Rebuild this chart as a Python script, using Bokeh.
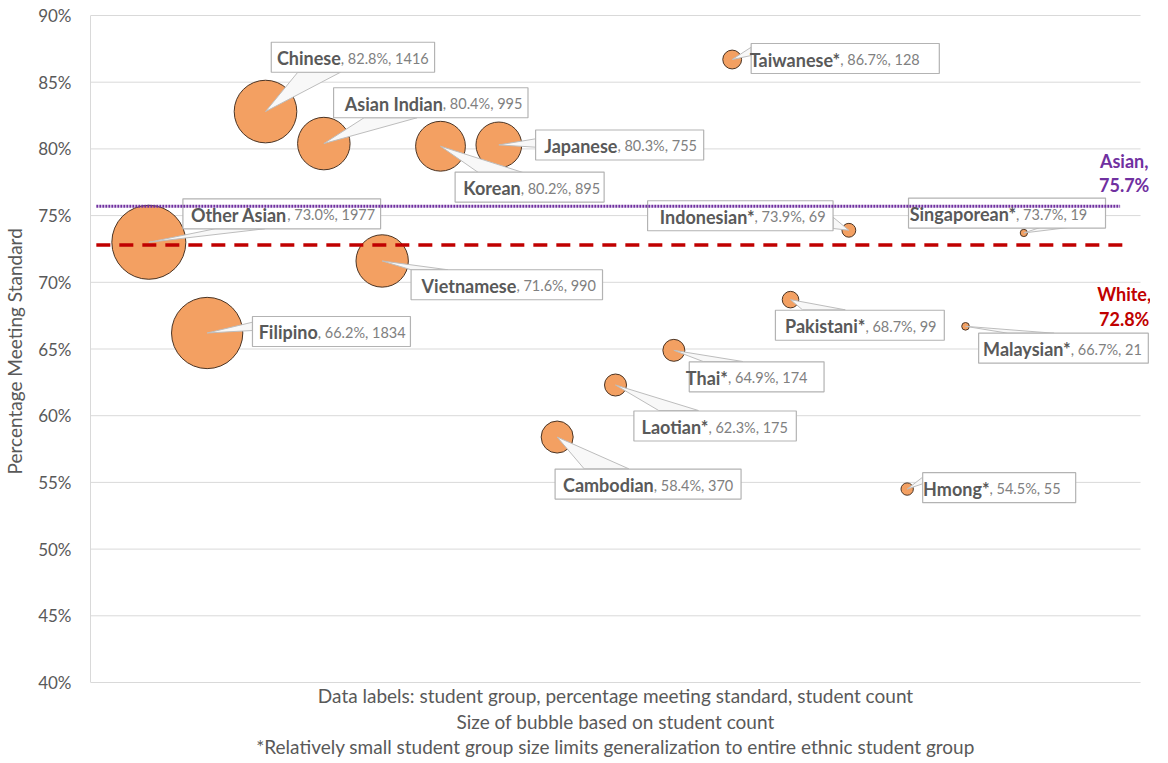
from bokeh.plotting import figure
from bokeh.models import ColumnDataSource, FixedTicker, Range1d
from bokeh.core.properties import value
from bokeh.embed import file_html
from bokeh.resources import INLINE

# ---------------- data ----------------
groups = ["Other Asian", "Filipino", "Chinese", "Asian Indian", "Vietnamese", "Korean",
          "Japanese", "Cambodian", "Laotian*", "Thai*", "Taiwanese*", "Pakistani*",
          "Indonesian*", "Hmong*", "Malaysian*", "Singaporean*"]
order = [1, 2, 3, 4, 5, 6, 7, 8, 9, 10, 11, 12, 13, 14, 15, 16]
pct_meeting = [73.0, 66.2, 82.8, 80.4, 71.6, 80.2, 80.3, 58.4, 62.3, 64.9, 86.7, 68.7,
               73.9, 54.5, 66.7, 73.7]
student_count = [1977, 1834, 1416, 995, 990, 895, 755, 370, 175, 174, 128, 99, 69, 55, 21, 19]

bench_names = ["Asian", "White"]
bench_values = [75.7, 72.8]

y_ticks = [40, 45, 50, 55, 60, 65, 70, 75, 80, 85, 90]
y_tick_labels = [f"{t}%" for t in y_ticks]

footer_lines = [
    "Data labels: student group, percentage meeting standard, student count",
    "Size of bubble based on student count",
    "*Relatively small student group size limits generalization to entire ethnic student group",
]
y_axis_title = "Percentage Meeting Standard"

# ---------------- layout (screen pixels, relative to each bubble centre; y up) ----------------
# (box left, box right, box centre dy, name/suffix split, wedge base point 1, wedge base point 2)
callout_layout = [
    (34.3, 233.3, 28.5, 139.3, (66.7, 13.5), (116.7, 13.5)),
    (45.6, 204.6, 1.5, 111.3, (45.6, 10.8), (45.6, 2.5)),
    (5.8, 170.2, 54.3, 75.8, (32.5, 39.3), (75.5, 39.3)),
    (9.8, 205.5, 40.8, 119.8, (40.5, 25.8), (93.8, 25.8)),
    (29.1, 221.8, -23.8, 135.1, (29.1, -8.8), (66.0, -8.8)),
    (14.7, 164.7, -40.8, 80.7, (38.1, -26.3), (83.1, -26.3)),
    (37.0, 206.2, -0.1, 119.4, (37.0, 6.1), (37.0, -2.3)),
    (-2.1, 185.1, -47.0, 97.2, (27.2, -31.8), (72.2, -31.8)),
    (18.5, 182.0, -41.0, 93.5, (43.5, -25.5), (83.5, -25.5)),
    (15.5, 151.2, -26.5, 54.5, (29.5, -11.2), (69.5, -11.2)),
    (19.1, 208.5, 1.0, 108.8, (19.1, 12.3), (19.1, 4.0)),
    (-15.2, 154.8, -25.6, 75.4, (12.1, -10.2), (55.1, -10.2)),
    (-202.6, -15.9, 14.5, -94.9, (-15.9, 13.1), (-15.9, 1.8)),
    (15.6, 169.6, 1.4, 82.9, (15.6, 11.9), (15.6, 5.3)),
    (13.2, 184.0, -21.9, 105.9, (42.6, -6.9), (89.2, -6.9)),
    (-116.1, 82.2, 19.9, -7.8, (17.2, 5.7), (47.2, 5.7)),
]
BOX_H = 30.0
# benchmark label: x position (data units) and pixel offsets of the two text lines from the line
bench_label_x = 17.72
bench_label_dy = [(45.0, 21.0), (-49.0, -74.0)]
bench_colors = ["#7030A0", "#C00000"]
# footer lines: pixel distance below the 40% baseline
footer_dy = [13.0, 38.5, 64.0]

FIG_W, FIG_H = 1150, 760
PX_X = 58.72          # pixels per category step
PX_Y = 13.34          # pixels per percentage point
PAD_TOP_PX = 15       # space above the 90% line inside the canvas
LEFT_PANEL = 83       # y-axis panel width (set by the axis styling below)
GRID_X_END = 18
X_START = 0.0
X_END = X_START + (FIG_W - LEFT_PANEL) / PX_X
Y_TOP, Y_BOTTOM = 90.0, 40.0
Y_END = Y_TOP + PAD_TOP_PX / PX_Y
Y_START = Y_END - FIG_H / PX_Y
MAX_BUBBLE_PX = 74.0

FONT = "Lato"

# ---------------- figure ----------------
p = figure(width=FIG_W, height=FIG_H, x_axis_location=None,
           x_range=Range1d(X_START, X_END), y_range=Range1d(Y_START, Y_END),
           output_backend="svg", toolbar_location=None, min_border=0)
p.outline_line_color = None
p.xgrid.visible = False
p.ygrid.visible = False
p.background_fill_color = "white"
p.border_fill_color = "white"

# y axis
p.yaxis.ticker = FixedTicker(ticks=y_ticks)
p.yaxis.bounds = (Y_BOTTOM, Y_TOP)
p.yaxis.major_label_overrides = {t: l for t, l in zip(y_ticks, y_tick_labels)}
p.yaxis.major_tick_out = 0
p.yaxis.major_tick_in = 0
p.yaxis.minor_tick_out = 0
p.yaxis.minor_tick_in = 0
p.yaxis.axis_line_color = "#d9d9d9"
p.yaxis.major_label_standoff = 19
p.yaxis.major_label_text_font = FONT
p.yaxis.major_label_text_font_size = "17px"
p.yaxis.major_label_text_color = "#595959"
# leading no-break spaces keep the title centred on the 40%-90% span
p.yaxis.axis_label = "\u00a0" * 12 + y_axis_title
p.yaxis.axis_label_text_font = FONT
p.yaxis.axis_label_text_font_size = "19px"
p.yaxis.axis_label_text_font_style = "normal"
p.yaxis.axis_label_text_color = "#595959"
p.yaxis.axis_label_standoff = 9

# horizontal gridlines (the 40% one doubles as the x axis line)
p.segment(x0=[0] * len(y_ticks), x1=[GRID_X_END] * len(y_ticks), y0=y_ticks, y1=y_ticks,
          line_color="#d9d9d9", line_width=1)

# bubbles (area proportional to student count)
sizes = [MAX_BUBBLE_PX * (c / max(student_count)) ** 0.5 for c in student_count]
bsrc = ColumnDataSource(dict(x=order, y=pct_meeting, size=sizes))
p.scatter("x", "y", size="size", source=bsrc, fill_color="#F3A062",
          line_color="#4a3424", line_width=1)

# callouts
w_xs, w_ys = [], []
bl, br, bt, bb = [], [], [], []
nx, ny, names = [], [], []
suff = []
for g, x, y, c, lay in zip(groups, order, pct_meeting, student_count, callout_layout):
    L, R, cy, split, w1, w2 = lay
    w_xs.append([x, x + w1[0] / PX_X, x + w2[0] / PX_X])
    w_ys.append([y, y + w1[1] / PX_Y, y + w2[1] / PX_Y])
    bl.append(x + L / PX_X)
    br.append(x + R / PX_X)
    bt.append(y + (cy + BOX_H / 2) / PX_Y)
    bb.append(y + (cy - BOX_H / 2) / PX_Y)
    nx.append(x + split / PX_X)
    ny.append(y + (cy - 1) / PX_Y)
    names.append(g)
    suff.append(f", {y:.1f}%, {c}")

p.patches(w_xs, w_ys, fill_color="#f8f8f8", line_color="#bdbdbd", line_width=1)
p.quad(left=bl, right=br, top=bt, bottom=bb, fill_color="white",
       line_color="#b3b3b3", line_width=1.2)

# benchmark lines
p.line([0.1, 17.65], [bench_values[0]] * 2, line_color=bench_colors[0], line_width=3,
       line_dash="2 1")
p.line([0.1, 17.75], [bench_values[1]] * 2, line_color=bench_colors[1], line_width=3.5,
       line_dash="14 9")

tsrc = ColumnDataSource(dict(x=nx, y=ny, name=names, suffix=suff))
p.text("x", "y", text="name", source=tsrc, text_align="right", text_baseline="middle",
       text_font=value(FONT), text_font_style="bold", text_font_size="18px",
       text_color="#595959")
p.text("x", "y", text="suffix", source=tsrc, text_align="left", text_baseline="middle",
       text_font=value(FONT), text_font_size="14.5px", text_color="#808080")

# benchmark labels
lx, ly, lt, lc = [], [], [], []
for nm, v, (d1, d2), col in zip(bench_names, bench_values, bench_label_dy, bench_colors):
    lx += [bench_label_x, bench_label_x]
    ly += [v + d1 / PX_Y, v + d2 / PX_Y]
    lt += [f"{nm},", f"{v:.1f}%"]
    lc += [col, col]
p.text(lx, ly, text=lt, text_color=lc, text_align="center", text_baseline="middle",
       text_font=value(FONT), text_font_style="bold", text_font_size="18px")

# footer notes below the chart
fx = [GRID_X_END / 2] * len(footer_lines)
fy = [Y_BOTTOM - d / PX_Y for d in footer_dy]
p.text(fx, fy, text=footer_lines, text_align="center", text_baseline="middle",
       text_font=value(FONT), text_font_size="19px", text_color="#595959")

open("out.html", "w").write(file_html(p, INLINE))
